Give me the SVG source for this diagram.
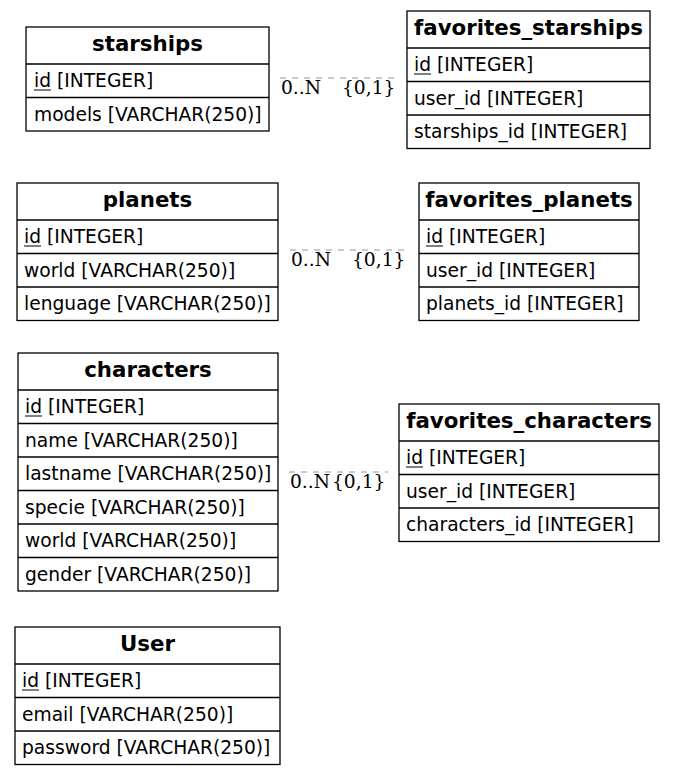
<svg xmlns="http://www.w3.org/2000/svg" width="675" height="775" viewBox="0 0 675 775">
<style>
rect.b{fill:#fff;stroke:#000;stroke-width:1.3}
line.s{stroke:#000;stroke-width:1.3}
text{font-family:"DejaVu Sans",sans-serif;font-size:18.67px;fill:#000}
text.h{font-weight:bold;font-size:21.33px;text-anchor:middle}
line.u{stroke:#000;stroke-width:1}
line.c{stroke:#999;stroke-width:1;stroke-dasharray:6,6}
text.l{font-family:"DejaVu Serif",serif;font-size:18.67px}
</style>
<rect width="675" height="775" fill="#fff"/>
<g id="connectors">
<line class="c" x1="280" y1="78" x2="397" y2="78"/>
<text class="l" x="281" y="94">0..N</text>
<text class="l" x="342" y="94">{0,1}</text>
<line class="c" x1="290" y1="250" x2="408" y2="250"/>
<text class="l" x="291" y="266">0..N</text>
<text class="l" x="352" y="266">{0,1}</text>
<line class="c" x1="289" y1="472" x2="388" y2="472"/>
<text class="l" x="290" y="488">0..N</text>
<text class="l" x="332" y="488">{0,1}</text>
</g>
<g id="starships">
<rect class="b" x="26" y="27" width="243" height="104"/>
<line class="s" x1="26" y1="64" x2="269" y2="64"/>
<line class="s" x1="26" y1="97.5" x2="269" y2="97.5"/>
<text class="h" x="147.5" y="51">starships</text>
<text x="34" y="87">id [INTEGER]</text><line class="u" x1="34" y1="90" x2="51" y2="90"/>
<text x="34" y="120.5">models [VARCHAR(250)]</text>
</g>
<g id="favorites_starships">
<rect class="b" x="407" y="11" width="243" height="137.5"/>
<line class="s" x1="407" y1="48" x2="650" y2="48"/>
<line class="s" x1="407" y1="81.5" x2="650" y2="81.5"/>
<line class="s" x1="407" y1="115" x2="650" y2="115"/>
<text class="h" x="528.5" y="35">favorites_starships</text>
<text x="414" y="71">id [INTEGER]</text><line class="u" x1="414" y1="74" x2="431" y2="74"/>
<text x="414" y="104.5">user_id [INTEGER]</text>
<text x="414" y="138">starships_id [INTEGER]</text>
</g>
<g id="planets">
<rect class="b" x="17" y="183" width="261" height="137.5"/>
<line class="s" x1="17" y1="220" x2="278" y2="220"/>
<line class="s" x1="17" y1="253.5" x2="278" y2="253.5"/>
<line class="s" x1="17" y1="287" x2="278" y2="287"/>
<text class="h" x="147.5" y="207">planets</text>
<text x="24" y="243">id [INTEGER]</text><line class="u" x1="24" y1="246" x2="41" y2="246"/>
<text x="24" y="276.5">world [VARCHAR(250)]</text>
<text x="24" y="310">lenguage [VARCHAR(250)]</text>
</g>
<g id="favorites_planets">
<rect class="b" x="419" y="183" width="220" height="137.5"/>
<line class="s" x1="419" y1="220" x2="639" y2="220"/>
<line class="s" x1="419" y1="253.5" x2="639" y2="253.5"/>
<line class="s" x1="419" y1="287" x2="639" y2="287"/>
<text class="h" x="529" y="207">favorites_planets</text>
<text x="426" y="243">id [INTEGER]</text><line class="u" x1="426" y1="246" x2="443" y2="246"/>
<text x="426" y="276.5">user_id [INTEGER]</text>
<text x="426" y="310">planets_id [INTEGER]</text>
</g>
<g id="characters">
<rect class="b" x="18" y="353" width="260" height="238"/>
<line class="s" x1="18" y1="390" x2="278" y2="390"/>
<line class="s" x1="18" y1="423.5" x2="278" y2="423.5"/>
<line class="s" x1="18" y1="457" x2="278" y2="457"/>
<line class="s" x1="18" y1="490.5" x2="278" y2="490.5"/>
<line class="s" x1="18" y1="524" x2="278" y2="524"/>
<line class="s" x1="18" y1="557.5" x2="278" y2="557.5"/>
<text class="h" x="148" y="377">characters</text>
<text x="25" y="413">id [INTEGER]</text><line class="u" x1="25" y1="416" x2="42" y2="416"/>
<text x="25" y="446.5">name [VARCHAR(250)]</text>
<text x="25" y="480">lastname [VARCHAR(250)]</text>
<text x="25" y="513.5">specie [VARCHAR(250)]</text>
<text x="25" y="547">world [VARCHAR(250)]</text>
<text x="25" y="580.5">gender [VARCHAR(250)]</text>
</g>
<g id="favorites_characters">
<rect class="b" x="399" y="404" width="260" height="137.5"/>
<line class="s" x1="399" y1="441" x2="659" y2="441"/>
<line class="s" x1="399" y1="474.5" x2="659" y2="474.5"/>
<line class="s" x1="399" y1="508" x2="659" y2="508"/>
<text class="h" x="529" y="428">favorites_characters</text>
<text x="406" y="464">id [INTEGER]</text><line class="u" x1="406" y1="467" x2="423" y2="467"/>
<text x="406" y="497.5">user_id [INTEGER]</text>
<text x="406" y="531">characters_id [INTEGER]</text>
</g>
<g id="User">
<rect class="b" x="15" y="627" width="265" height="137.5"/>
<line class="s" x1="15" y1="664" x2="280" y2="664"/>
<line class="s" x1="15" y1="697.5" x2="280" y2="697.5"/>
<line class="s" x1="15" y1="731" x2="280" y2="731"/>
<text class="h" x="147.5" y="651">User</text>
<text x="22" y="687">id [INTEGER]</text><line class="u" x1="22" y1="690" x2="39" y2="690"/>
<text x="22" y="720.5">email [VARCHAR(250)]</text>
<text x="22" y="754">password [VARCHAR(250)]</text>
</g>
</svg>
